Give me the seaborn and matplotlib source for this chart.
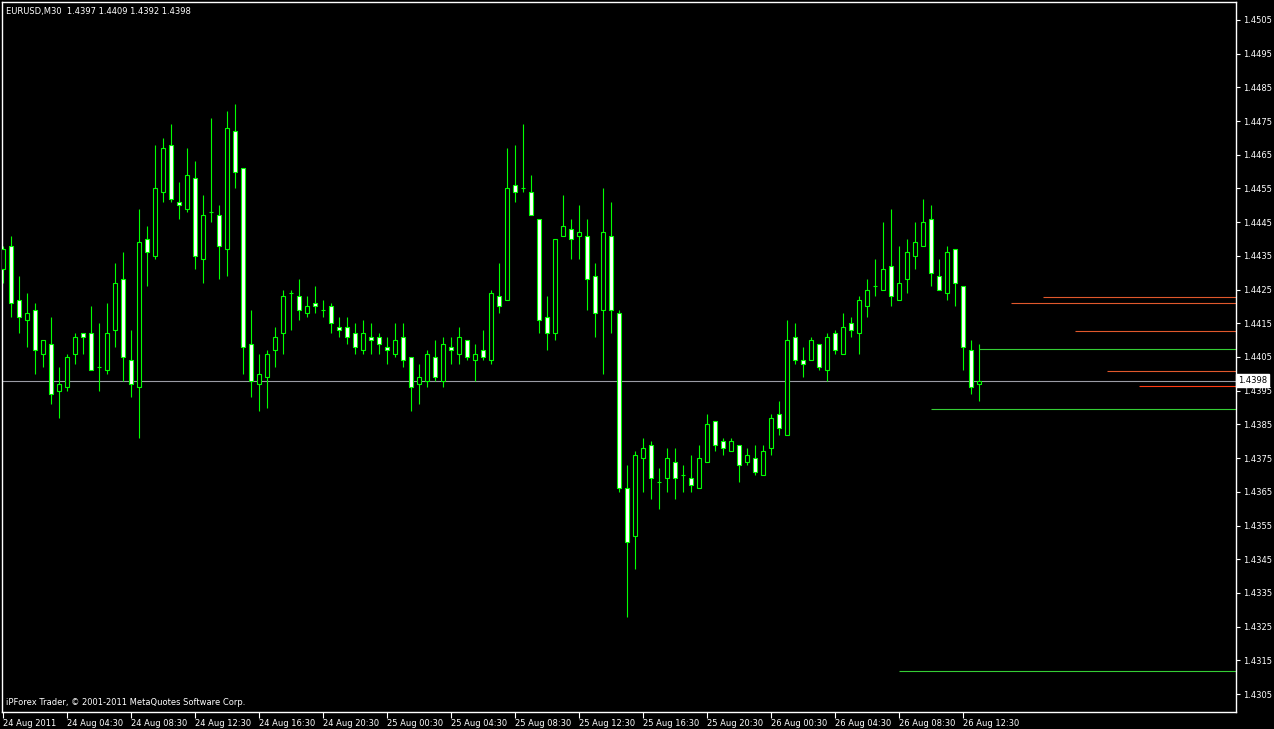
import numpy as np
import pandas as pd
import seaborn as sns
import matplotlib
matplotlib.use("Agg")
import matplotlib.pyplot as plt
import matplotlib.transforms as mtransforms

# EURUSD M30 candles, 24 Aug 00:30 .. 26 Aug 13:30
opens = [1.4431, 1.4438, 1.4422, 1.4416, 1.4419, 1.4406, 1.4409, 1.4395, 1.4396, 1.4406,
         1.4412, 1.4412, 1.4402, 1.4401, 1.4413, 1.4428, 1.4404, 1.4396, 1.4440, 1.4435,
         1.4454, 1.4468, 1.4451, 1.4449, 1.4458, 1.4434, 1.4448, 1.4447, 1.4437, 1.4472,
         1.4461, 1.4409, 1.4397, 1.4399, 1.4407, 1.4412, 1.4424, 1.4423, 1.4418, 1.4421,
         1.4419, 1.4420, 1.4414, 1.4414, 1.4412, 1.4407, 1.4411, 1.4411, 1.4408, 1.4406,
         1.4411, 1.4405, 1.4397, 1.4398, 1.4405, 1.4398, 1.4408, 1.4406, 1.4410, 1.4404,
         1.4407, 1.4404, 1.4423, 1.4422, 1.4456, 1.4455, 1.4454, 1.4446, 1.4417, 1.4412,
         1.4441, 1.4443, 1.4441, 1.4441, 1.4429, 1.4419, 1.4441, 1.4418, 1.4366, 1.4352,
         1.4375, 1.4379, 1.4368, 1.4369, 1.4374, 1.4370, 1.4369, 1.4366, 1.4374, 1.4386,
         1.4380, 1.4377, 1.4379, 1.4374, 1.4375, 1.4370, 1.4378, 1.4388, 1.4382, 1.4411,
         1.4404, 1.4404, 1.4409, 1.4401, 1.4412, 1.4406, 1.4415, 1.4412, 1.4420, 1.4426,
         1.4425, 1.4432, 1.4422, 1.4428, 1.4435, 1.4438, 1.4446, 1.4429, 1.4424, 1.4437,
         1.4426, 1.4407, 1.4397]
highs = [1.4438, 1.4441, 1.4429, 1.4424, 1.4421, 1.4410, 1.4417, 1.4402, 1.4406, 1.4412,
         1.4412, 1.4420, 1.4415, 1.4421, 1.4433, 1.4436, 1.4413, 1.4449, 1.4444, 1.4468,
         1.4470, 1.4474, 1.4457, 1.4467, 1.4463, 1.4453, 1.4476, 1.4450, 1.4478, 1.4480,
         1.4461, 1.4419, 1.4406, 1.4407, 1.4414, 1.4425, 1.4425, 1.4428, 1.4423, 1.4426,
         1.4422, 1.4421, 1.4417, 1.4417, 1.4415, 1.4416, 1.4415, 1.4412, 1.4411, 1.4415,
         1.4415, 1.4405, 1.4403, 1.4407, 1.4410, 1.4411, 1.4411, 1.4414, 1.4410, 1.4409,
         1.4413, 1.4425, 1.4433, 1.4467, 1.4468, 1.4474, 1.4459, 1.4446, 1.4423, 1.4440,
         1.4453, 1.4446, 1.4450, 1.4446, 1.4433, 1.4455, 1.4451, 1.4419, 1.4373, 1.4377,
         1.4381, 1.4380, 1.4372, 1.4378, 1.4378, 1.4373, 1.4376, 1.4379, 1.4388, 1.4386,
         1.4381, 1.4381, 1.4379, 1.4378, 1.4379, 1.4379, 1.4388, 1.4392, 1.4416, 1.4415,
         1.4408, 1.4411, 1.4409, 1.4412, 1.4413, 1.4418, 1.4417, 1.4423, 1.4428, 1.4434,
         1.4445, 1.4449, 1.4438, 1.4440, 1.4445, 1.4452, 1.4450, 1.4434, 1.4438, 1.4437,
         1.4426, 1.4410, 1.4409]
lows = [1.4427, 1.4417, 1.4412, 1.4408, 1.4400, 1.4402, 1.4391, 1.4387, 1.4395, 1.4403,
        1.4406, 1.4401, 1.4395, 1.4400, 1.4408, 1.4398, 1.4393, 1.4381, 1.4426, 1.4434,
        1.4451, 1.4451, 1.4446, 1.4448, 1.4431, 1.4427, 1.4445, 1.4428, 1.4429, 1.4455,
        1.4400, 1.4393, 1.4389, 1.4390, 1.4402, 1.4406, 1.4413, 1.4416, 1.4417, 1.4418,
        1.4417, 1.4412, 1.4411, 1.4409, 1.4406, 1.4406, 1.4406, 1.4406, 1.4403, 1.4405,
        1.4402, 1.4389, 1.4391, 1.4396, 1.4398, 1.4396, 1.4403, 1.4403, 1.4404, 1.4398,
        1.4404, 1.4403, 1.4418, 1.4422, 1.4451, 1.4454, 1.4447, 1.4412, 1.4407, 1.4410,
        1.4441, 1.4434, 1.4434, 1.4419, 1.4411, 1.4400, 1.4412, 1.4365, 1.4328, 1.4342,
        1.4365, 1.4363, 1.4360, 1.4365, 1.4363, 1.4365, 1.4365, 1.4366, 1.4374, 1.4377,
        1.4376, 1.4377, 1.4368, 1.4373, 1.4370, 1.4370, 1.4376, 1.4382, 1.4382, 1.4403,
        1.4399, 1.4404, 1.4401, 1.4398, 1.4406, 1.4406, 1.4411, 1.4406, 1.4417, 1.4423,
        1.4425, 1.4420, 1.4422, 1.4424, 1.4431, 1.4438, 1.4426, 1.4425, 1.4422, 1.4420,
        1.4401, 1.4394, 1.4392]
closes = [1.4437, 1.4421, 1.4417, 1.4418, 1.4407, 1.4410, 1.4394, 1.4397, 1.4405, 1.4411,
          1.4411, 1.4401, 1.4402, 1.4412, 1.4427, 1.4405, 1.4397, 1.4439, 1.4436, 1.4455,
          1.4467, 1.4452, 1.4450, 1.4459, 1.4435, 1.4447, 1.4448, 1.4438, 1.4473, 1.4460,
          1.4408, 1.4398, 1.4400, 1.4406, 1.4411, 1.4423, 1.4424, 1.4419, 1.4420, 1.4420,
          1.4419, 1.4415, 1.4413, 1.4411, 1.4408, 1.4412, 1.4410, 1.4409, 1.4407, 1.4410,
          1.4404, 1.4396, 1.4399, 1.4406, 1.4399, 1.4409, 1.4407, 1.4411, 1.4405, 1.4406,
          1.4405, 1.4424, 1.4420, 1.4455, 1.4454, 1.4455, 1.4447, 1.4416, 1.4412, 1.4440,
          1.4444, 1.4440, 1.4442, 1.4428, 1.4418, 1.4442, 1.4419, 1.4366, 1.4350, 1.4376,
          1.4378, 1.4369, 1.4368, 1.4375, 1.4369, 1.4370, 1.4367, 1.4375, 1.4385, 1.4379,
          1.4378, 1.4380, 1.4373, 1.4376, 1.4371, 1.4377, 1.4387, 1.4384, 1.4410, 1.4404,
          1.4403, 1.4410, 1.4402, 1.4411, 1.4407, 1.4414, 1.4413, 1.4422, 1.4425, 1.4426,
          1.4431, 1.4423, 1.4427, 1.4436, 1.4439, 1.4445, 1.4430, 1.4425, 1.4436, 1.4427,
          1.4408, 1.4396, 1.4398]

time_labels = ["24 Aug 2011", "24 Aug 04:30", "24 Aug 08:30", "24 Aug 12:30",
               "24 Aug 16:30", "24 Aug 20:30", "25 Aug 00:30", "25 Aug 04:30",
               "25 Aug 08:30", "25 Aug 12:30", "25 Aug 16:30", "25 Aug 20:30",
               "26 Aug 00:30", "26 Aug 04:30", "26 Aug 08:30", "26 Aug 12:30"]

# indicator levels drawn to the right edge
level_prices = [1.44227, 1.44209, 1.44126, 1.44073, 1.44008, 1.43963, 1.43895, 1.43118]
level_start = [130, 126, 134, 122, 138, 142, 116, 112]
level_kind = ["res", "res", "res", "sup", "res", "red", "sup", "sup"]

bid = 1.4398
price_ticks = [1.4305, 1.4315, 1.4325, 1.4335, 1.4345, 1.4355, 1.4365, 1.4375, 1.4385,
               1.4395, 1.4405, 1.4415, 1.4425, 1.4435, 1.4445, 1.4455, 1.4465, 1.4475,
               1.4485, 1.4495, 1.4505]

df = pd.DataFrame({"open": opens, "high": highs, "low": lows, "close": closes})
df["bar"] = np.arange(len(df))
df["up"] = df["close"] >= df["open"]

sns.set_theme(style="dark", rc={"axes.facecolor": "black", "figure.facecolor": "black",
                                "axes.edgecolor": "white", "text.color": "white",
                                "xtick.color": "white", "ytick.color": "white"})
plt.rcParams["font.family"] = ["DejaVu Sans"]

W, H = 1274, 729
fig = plt.figure(figsize=(W / 100, H / 100), dpi=100)
ax = fig.add_axes([2 / W, (H - 712) / H, 1234 / W, 710 / H])

line_colors = {"res": "#e0582c", "red": "#ff3a12", "sup": "#35cd35"}
ax.axhline(bid, color="#9a9ca4", lw=0.8, zorder=1)
for p, s, k in zip(level_prices, level_start, level_kind):
    ax.hlines(p, s, 160, color=line_colors[k], lw=0.8, zorder=1)

# wicks
ax.vlines(df["bar"], df["low"], df["high"], color="#00ff00", lw=0.8, zorder=2)
# bodies
body_lo = df[["open", "close"]].min(axis=1)
body_h = (df["close"] - df["open"]).abs()
fills = np.where(df["up"], "black", "white")
ax.bar(df["bar"], body_h, bottom=body_lo, width=0.5, color=fills,
       edgecolor="#00ff00", linewidth=0.8, zorder=3)

ax.set_xlim(-0.15, 154.1)
ax.set_ylim(1.42997, 1.45103)

ax.yaxis.tick_right()
ax.set_yticks(price_ticks)
ax.set_yticklabels([f"{v:.4f}" for v in price_ticks], fontsize=6)
ax.set_xticks(df["bar"][::8])
ax.set_xticklabels(time_labels, fontsize=6, ha="left")
ax.tick_params(axis="y", length=3, width=0.8, pad=2, right=True, left=False)
ax.tick_params(axis="x", length=4, width=0.8, pad=1, bottom=True)
ax.grid(False)
for sp in ax.spines.values():
    sp.set_color("white")
    sp.set_linewidth(1)

trans = mtransforms.blended_transform_factory(ax.transAxes, ax.transData)
ax.text(1.0015, bid, "1.4398", transform=trans, fontsize=6, color="black", va="center",
        ha="left", bbox=dict(facecolor="white", edgecolor="white", pad=1.2), zorder=10,
        clip_on=False)

ax.text(0.003, 0.987, "EURUSD,M30  1.4397 1.4409 1.4392 1.4398", transform=ax.transAxes,
        fontsize=6, color="white", va="center", ha="left")
ax.text(0.003, 0.014, "iPForex Trader, \u00a9 2001-2011 MetaQuotes Software Corp.",
        transform=ax.transAxes, fontsize=6, color="white", va="center", ha="left")

fig.savefig("out.png", dpi=100, facecolor="black")
